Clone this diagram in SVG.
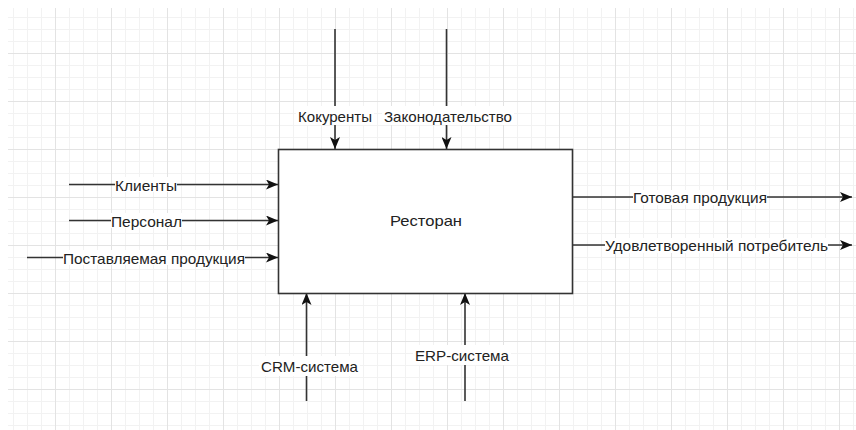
<svg xmlns="http://www.w3.org/2000/svg" width="856" height="430" viewBox="0 0 856 430">
  <defs>
    <pattern id="grid" patternUnits="userSpaceOnUse" x="-1" y="5" width="56" height="48">
      <rect x="14" y="0" width="1" height="48" fill="#f2f2f2"/>
      <rect x="28" y="0" width="1" height="48" fill="#f2f2f2"/>
      <rect x="42" y="0" width="1" height="48" fill="#f2f2f2"/>
      <rect x="0" y="12" width="56" height="1" fill="#f2f2f2"/>
      <rect x="0" y="24" width="56" height="1" fill="#f2f2f2"/>
      <rect x="0" y="36" width="56" height="1" fill="#f2f2f2"/>
      <rect x="0" y="0" width="1" height="48" fill="#e3e3e3"/>
      <rect x="0" y="0" width="56" height="1" fill="#e3e3e3"/>
    </pattern>
    <marker id="arrow" viewBox="0 0 12 10" refX="12" refY="5" markerWidth="12" markerHeight="10" markerUnits="userSpaceOnUse" orient="auto">
      <path d="M0,0 L12,5 L0,10 L3,5 z" fill="#111"/>
    </marker>
    <style>
      .edge { stroke: #333; stroke-width: 1.6; fill: none; marker-end: url(#arrow); }
      .lbl { font-family: "Liberation Sans", Arial, sans-serif; font-size: 15px; fill: #222; text-anchor: middle; dominant-baseline: central; }
      .bg { fill: #fff; }
      .box { fill: #fff; stroke: #333; stroke-width: 1.6; }
    </style>
  </defs>

  <rect x="0" y="0" width="856" height="430" fill="#fff"/>
  <rect x="8" y="8" width="848" height="422" fill="url(#grid)"/>

  <g id="connectors">
    <!-- inputs (left) -->
    <path class="edge" d="M69,184.5 H278"/>
    <path class="edge" d="M69,220.5 H278"/>
    <path class="edge" d="M27,257.5 H278"/>
    <!-- controls (top) -->
    <path class="edge" d="M335,29 V149"/>
    <path class="edge" d="M446.5,29 V149"/>
    <!-- mechanisms (bottom) -->
    <path class="edge" d="M306.5,401 V293"/>
    <path class="edge" d="M465,401 V293"/>
    <!-- outputs (right) -->
    <path class="edge" d="M573,197 H852"/>
    <path class="edge" d="M573,245 H852"/>
  </g>

  <g id="node-restaurant">
    <rect class="box" x="278.5" y="149.5" width="294" height="144"/>
    <text class="lbl" x="426" y="220" textLength="72" lengthAdjust="spacingAndGlyphs">Ресторан</text>
  </g>

  <g id="label-clients">
    <rect class="bg" x="115" y="177" width="62" height="15"/>
    <text class="lbl" x="146" y="185" textLength="62" lengthAdjust="spacingAndGlyphs">Клиенты</text>
  </g>
  <g id="label-staff">
    <rect class="bg" x="111" y="213" width="71" height="15"/>
    <text class="lbl" x="146.5" y="221" textLength="71" lengthAdjust="spacingAndGlyphs">Персонал</text>
  </g>
  <g id="label-supplies">
    <rect class="bg" x="63" y="250" width="182" height="15"/>
    <text class="lbl" x="154" y="258" textLength="182" lengthAdjust="spacingAndGlyphs">Поставляемая продукция</text>
  </g>
  <g id="label-competitors">
    <rect class="bg" x="296" y="106" width="78" height="19"/>
    <text class="lbl" x="335" y="116" textLength="74" lengthAdjust="spacingAndGlyphs">Кокуренты</text>
  </g>
  <g id="label-law">
    <rect class="bg" x="382" y="106" width="132" height="19"/>
    <text class="lbl" x="448" y="116" textLength="128" lengthAdjust="spacingAndGlyphs">Законодательство</text>
  </g>
  <g id="label-crm">
    <rect class="bg" x="259" y="356" width="101" height="20"/>
    <text class="lbl" x="309.5" y="366" textLength="97" lengthAdjust="spacingAndGlyphs">CRM-система</text>
  </g>
  <g id="label-erp">
    <rect class="bg" x="413" y="345" width="98" height="20"/>
    <text class="lbl" x="462" y="355" textLength="94" lengthAdjust="spacingAndGlyphs">ERP-система</text>
  </g>
  <g id="label-products">
    <rect class="bg" x="633" y="190" width="134" height="15"/>
    <text class="lbl" x="700" y="197" textLength="134" lengthAdjust="spacingAndGlyphs">Готовая продукция</text>
  </g>
  <g id="label-consumer">
    <rect class="bg" x="605" y="238" width="223" height="15"/>
    <text class="lbl" x="716.5" y="245" textLength="223" lengthAdjust="spacingAndGlyphs">Удовлетворенный потребитель</text>
  </g>
</svg>
